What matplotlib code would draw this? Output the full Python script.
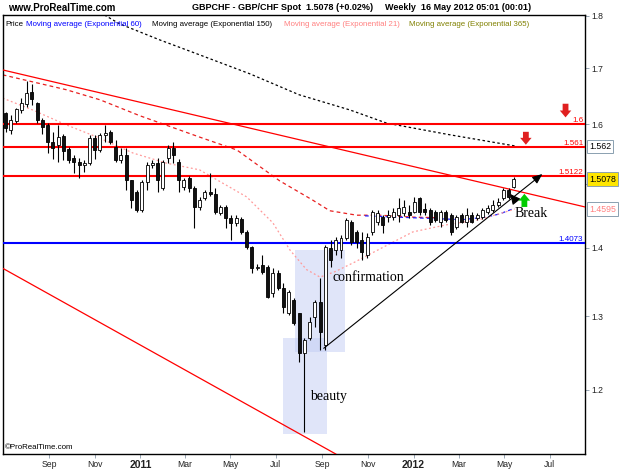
import matplotlib
matplotlib.use('Agg')
import matplotlib.pyplot as plt
import matplotlib.dates as mdates
from matplotlib.patches import Rectangle
import pandas as pd

# ---------------- data ----------------
first_week = '2010-07-05'
opens = [1.620,1.590,1.606,1.625,1.636,1.657,1.637,1.608,1.599,1.570,
         1.565,1.580,1.558,1.543,1.536,1.531,1.534,1.576,1.556,1.582,
         1.587,1.561,1.539,1.548,1.506,1.487,1.458,1.503,1.531,1.534,
         1.493,1.543,1.560,1.536,1.495,1.510,1.493,1.463,1.477,1.487,
         1.484,1.453,1.463,1.446,1.438,1.444,1.424,1.401,1.370,1.374,
         1.371,1.333,1.362,1.340,1.304,1.323,1.304,1.249,1.270,1.299,
         1.320,1.260,1.399,1.396,1.396,1.415,1.439,1.424,1.412,1.389,
         1.424,1.439,1.447,1.447,1.447,1.450,1.453,1.455,1.455,1.477,
         1.460,1.458,1.455,1.439,1.455,1.450,1.432,1.450,1.439,1.450,
         1.446,1.447,1.455,1.458,1.466,1.477,1.490,1.495]
closes = [1.594,1.608,1.627,1.637,1.655,1.645,1.608,1.595,1.570,1.560,
          1.578,1.554,1.539,1.536,1.531,1.534,1.576,1.556,1.582,1.585,
          1.570,1.539,1.548,1.506,1.474,1.458,1.503,1.531,1.534,1.506,
          1.536,1.560,1.548,1.506,1.506,1.493,1.463,1.474,1.487,1.484,
          1.455,1.463,1.446,1.438,1.446,1.424,1.401,1.370,1.371,1.364,
          1.327,1.362,1.340,1.313,1.334,1.290,1.249,1.267,1.292,1.320,
          1.278,1.401,1.381,1.412,1.415,1.443,1.409,1.409,1.393,1.416,
          1.455,1.453,1.435,1.450,1.455,1.461,1.463,1.450,1.471,1.455,
          1.455,1.439,1.443,1.455,1.443,1.424,1.447,1.439,1.450,1.439,
          1.450,1.458,1.461,1.466,1.471,1.490,1.479,1.508]
highs = [1.622,1.616,1.629,1.646,1.676,1.672,1.639,1.611,1.602,1.587,
         1.599,1.583,1.561,1.548,1.543,1.539,1.582,1.582,1.585,1.599,
         1.590,1.573,1.560,1.560,1.506,1.490,1.506,1.536,1.539,1.543,
         1.539,1.565,1.570,1.541,1.510,1.513,1.497,1.479,1.490,1.518,
         1.493,1.466,1.466,1.450,1.450,1.447,1.427,1.403,1.375,1.389,
         1.374,1.370,1.367,1.347,1.337,1.326,1.304,1.270,1.299,1.323,
         1.355,1.404,1.412,1.416,1.419,1.446,1.443,1.427,1.424,1.422,
         1.458,1.458,1.450,1.458,1.461,1.477,1.474,1.466,1.479,1.479,
         1.469,1.461,1.458,1.458,1.458,1.453,1.450,1.453,1.461,1.455,
         1.453,1.461,1.466,1.474,1.477,1.493,1.493,1.511]
lows = [1.587,1.583,1.602,1.620,1.630,1.634,1.602,1.583,1.551,1.541,
        1.536,1.539,1.534,1.518,1.510,1.519,1.531,1.541,1.553,1.570,
        1.566,1.536,1.534,1.490,1.461,1.455,1.455,1.490,1.526,1.487,
        1.490,1.534,1.534,1.487,1.490,1.487,1.430,1.458,1.474,1.481,
        1.452,1.450,1.430,1.412,1.433,1.421,1.398,1.362,1.367,1.361,
        1.326,1.327,1.337,1.304,1.302,1.288,1.237,1.147,1.267,1.285,
        1.253,1.253,1.371,1.389,1.384,1.412,1.404,1.399,1.381,1.384,
        1.419,1.435,1.422,1.439,1.443,1.439,1.449,1.446,1.453,1.450,
        1.450,1.435,1.439,1.432,1.439,1.419,1.429,1.438,1.432,1.438,
        1.443,1.444,1.452,1.455,1.463,1.474,1.476,1.493]

# moving-average curves (date, price)
ema150_dates = ['2010-11-14','2010-12-04','2011-01-27','2011-03-21','2011-05-27',
                '2011-08-01','2011-10-08','2011-11-26','2012-02-18','2012-05-15']
ema150_vals = [1.801,1.784,1.753,1.725,1.690,1.652,1.625,1.602,1.582,1.563]

red_ma_dates = ['2010-07-01','2010-09-24','2010-11-08','2010-12-31','2011-03-21',
                '2011-05-10','2011-07-06','2011-08-19','2011-09-11','2011-10-17',
                '2011-11-17','2011-12-31','2012-02-05']
red_ma_vals = [1.688,1.661,1.643,1.615,1.578,1.556,1.505,1.474,1.457,1.450,
               1.450,1.447,1.446]

ema60_dates = ['2011-10-28','2011-12-31','2012-03-06','2012-04-07','2012-04-25','2012-05-15']
ema60_vals = [1.449,1.446,1.443,1.447,1.452,1.461]

ema21_dates = ['2010-07-01','2010-08-10','2010-09-24','2010-11-08','2010-12-22',
               '2011-02-05','2011-03-21','2011-05-23','2011-06-27','2011-07-20',
               '2011-08-11','2011-08-29','2011-09-18','2011-10-14','2011-11-17',
               '2011-12-31','2012-02-14','2012-03-29','2012-05-15']
ema21_vals = [1.646,1.625,1.599,1.576,1.551,1.534,1.523,1.479,1.438,1.396,
              1.367,1.356,1.364,1.378,1.398,1.424,1.435,1.443,1.4595]

# drawn trend lines (date, price) pairs
down_trend = (['2010-07-01','2012-08-17'], [1.697, 1.463])
low_trend = (['2010-07-01','2011-09-19'], [1.369, 1.1196])
up_arrow = (['2011-08-31','2012-06-24'], [1.253, 1.519])

levels = [1.6, 1.561, 1.5122, 1.4073]
level_labels = ['1.6', '1.561', '1.5122', '1.4073']
level_colors = ['#ff0000', '#ff0000', '#ff0000', '#0000ff']

yticks = [1.2, 1.3, 1.4, 1.5, 1.6, 1.7, 1.8]
ytick_labels = ['1.2', '1.3', '1.4', '', '1.6', '1.7', '1.8']   # 1.5 hidden under last-price box
xtick_dates = ['2010-09-01','2010-11-01','2011-01-01','2011-03-01','2011-05-01',
               '2011-07-01','2011-09-01','2011-11-01','2012-01-01','2012-03-01',
               '2012-05-01','2012-07-01']
xtick_labels = ['Sep','Nov','2011','Mar','May','Jul','Sep','Nov','2012','Mar','May','Jul']

last_values = [(1.562, '1.562', 'black', 'white'),
               (1.5078, '1.5078', 'black', '#ffe600'),
               (1.4595, '1.4595', '#ff8080', 'white')]

# ---------------- figure ----------------
W, H = 625, 469
fig = plt.figure(figsize=(W/100, H/100), dpi=100)
L, R, T, B = 3, 585, 15, 454
ax = fig.add_axes([L/W, 1-B/H, (R-L)/W, (B-T)/H])
ax.set_yscale('log')

d2n = lambda s: mdates.date2num(pd.Timestamp(s))
dates = pd.date_range(first_week, periods=len(opens), freq='W-MON')
xs = mdates.date2num(dates)

# shaded boxes
ax.add_patch(Rectangle((d2n('2011-07-10'), 1.1435), d2n('2011-09-07')-d2n('2011-07-10'),
                       1.2696-1.1435, facecolor=(0.76, 0.80, 0.96), alpha=0.5,
                       edgecolor='none', zorder=1))
ax.add_patch(Rectangle((d2n('2011-07-26'), 1.2504), d2n('2011-10-02')-d2n('2011-07-26'),
                       1.3964-1.2504, facecolor=(0.76, 0.80, 0.96), alpha=0.5,
                       edgecolor='none', zorder=1))

# levels
for lv, lab, col in zip(levels, level_labels, level_colors):
    ax.axhline(lv, color=col, lw=1.5, zorder=3)
    ax.text(0.997, lv, lab, transform=ax.get_yaxis_transform(), ha='right', va='bottom',
            fontsize=5.8, color=col, family='Liberation Sans')

# moving averages
ax.plot(pd.to_datetime(ema150_dates), ema150_vals, color='black', lw=0.9,
        ls=(0, (2, 2)), zorder=2)
ax.plot(pd.to_datetime(red_ma_dates), red_ma_vals, color='#e82020', lw=0.9,
        ls=(0, (3, 2.5)), zorder=2)
ax.plot(pd.to_datetime(ema60_dates), ema60_vals, color='#2020ff', lw=0.9,
        ls=(0, (3, 2.5)), zorder=2)
ax.plot(pd.to_datetime(ema21_dates), ema21_vals, color='#ff9a9a', lw=0.9,
        ls=(0, (1.5, 2)), zorder=2)

# trend lines
ax.plot(pd.to_datetime(down_trend[0]), down_trend[1], color='#ff0000', lw=0.9, zorder=3)
ax.plot(pd.to_datetime(low_trend[0]), low_trend[1], color='#ff0000', lw=0.9, zorder=3)

# candles
bw = 4.0
for x, o, h, l, c in zip(xs, opens, highs, lows, closes):
    ax.vlines(x, l, h, color='black', lw=0.8, zorder=4)
    lo, hi = min(o, c), max(o, c)
    fc = 'white' if c >= o else '#111111'
    ax.add_patch(Rectangle((x-bw/2, lo), bw, max(hi-lo, 0.0008), facecolor=fc,
                           edgecolor='black', lw=0.6, zorder=5))

# up-trend arrow
ax.annotate('', xy=(d2n(up_arrow[0][1]), up_arrow[1][1]),
            xytext=(d2n(up_arrow[0][0]), up_arrow[1][0]),
            arrowprops=dict(arrowstyle='-|>,head_length=0.6,head_width=0.25',
                            color='black', lw=0.8), zorder=6)
# break arrow
ax.annotate('', xy=(d2n('2012-05-07'), 1.487), xytext=(d2n('2012-05-19'), 1.469),
            arrowprops=dict(arrowstyle='-|>,head_length=0.6,head_width=0.3',
                            color='black', lw=0.8), zorder=6)
# coloured block arrows
blk = 'simple,head_length=0.45,head_width=0.75,tail_width=0.38'
ax.annotate('', xy=(d2n('2012-07-22'), 1.612), xytext=(d2n('2012-07-22'), 1.636),
            arrowprops=dict(arrowstyle=blk, color='#e02020', lw=0, mutation_scale=11,
                            shrinkA=0, shrinkB=0), zorder=6)
ax.annotate('', xy=(d2n('2012-05-30'), 1.565), xytext=(d2n('2012-05-30'), 1.587),
            arrowprops=dict(arrowstyle=blk, color='#e02020', lw=0, mutation_scale=11,
                            shrinkA=0, shrinkB=0), zorder=6)
ax.annotate('', xy=(d2n('2012-05-28'), 1.484), xytext=(d2n('2012-05-28'), 1.463),
            arrowprops=dict(arrowstyle=blk, color='#00cc00', lw=0, mutation_scale=11,
                            shrinkA=0, shrinkB=0), zorder=6)

# annotation words
serif = 'Liberation Serif'
ax.text(d2n('2011-08-15'), 1.192, 'beauty', fontsize=10, family=serif, va='center', zorder=7)
ax.text(d2n('2011-09-14'), 1.356, 'confirmation', fontsize=10, family=serif, va='center', zorder=7)
ax.text(d2n('2012-05-15'), 1.452, 'Break', fontsize=10, family=serif, va='center', zorder=7)

# axes
ax.set_xlim(d2n('2010-07-01 10:00'), d2n('2012-08-17'))
ax.set_ylim(1.1196, 1.801)
ax.yaxis.tick_right()
ax.minorticks_off()
ax.set_yticks(yticks)
ax.set_yticklabels(ytick_labels)
ax.set_xticks([d2n(d) for d in xtick_dates])
ax.set_xticklabels(xtick_labels)
ax.tick_params(axis='both', length=3, width=0.6, color='#8899aa', labelsize=6.2,
               pad=1.5, labelcolor='#222222')
for lab in ax.get_xticklabels():
    lab.set_family('Liberation Sans')
    if lab.get_text() in ('2011', '2012'):
        lab.set_fontweight('bold')
        lab.set_fontsize(7.5)
for lab in ax.get_yticklabels():
    lab.set_family('Liberation Sans')
for s in ax.spines.values():
    s.set_linewidth(1.0)
    s.set_color('black')

# right value boxes
for val, txt, tc, bg in last_values:
    ax.text(1.007, val, txt, transform=ax.get_yaxis_transform(), ha='left', va='center',
            fontsize=6.3, color=tc, family='Liberation Sans', zorder=10,
            bbox=dict(boxstyle='square,pad=0.25', facecolor=bg, edgecolor='#8aa0b0', lw=0.7),
            clip_on=False)

# header
def ft(x, y, s, **kw):
    fig.text(x/W, 1-y/H, s, va='center', family='Liberation Sans', **kw)

ft(8, 8, 'www.ProRealTime.com', fontsize=7, fontweight='bold')
ft(192, 8, 'GBPCHF - GBP/CHF Spot', fontsize=6.5, fontweight='bold')
ft(306, 8, '1.5078 (+0.02%)', fontsize=6.5, fontweight='bold')
ft(385, 8, 'Weekly  16 May 2012 05:01 (00:01)', fontsize=6.5, fontweight='bold')

# legend line
leg_y = 25
ft(5, leg_y, 'Price', fontsize=5.7, color='black')
ft(26, leg_y, 'Moving average (Exponential 60)', fontsize=5.7, color='#0000ff')
ft(152, leg_y, 'Moving average (Exponential 150)', fontsize=5.7, color='black')
ft(284, leg_y, 'Moving average (Exponential 21)', fontsize=5.7, color='#ff8080')
ft(409, leg_y, 'Moving average (Exponential 365)', fontsize=5.7, color='#808000')

ft(5, 447, '\u00a9ProRealTime.com', fontsize=5.7, color='black')

fig.savefig('out.png', dpi=100)
